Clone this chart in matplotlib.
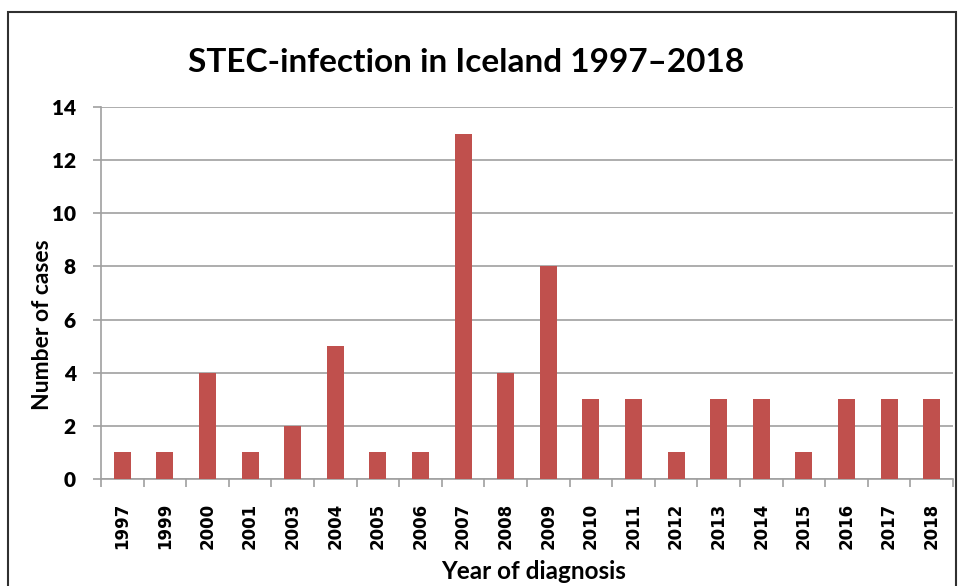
import matplotlib
matplotlib.use("Agg")
import matplotlib.pyplot as plt
import numpy as np
from matplotlib.patches import Rectangle

years = ["1997", "1999", "2000", "2001", "2003", "2004", "2005", "2006", "2007", "2008",
         "2009", "2010", "2011", "2012", "2013", "2014", "2015", "2016", "2017", "2018"]
cases = [1, 1, 4, 1, 2, 5, 1, 1, 13, 4, 8, 3, 3, 1, 3, 3, 1, 3, 3, 3]
yticks = [0, 2, 4, 6, 8, 10, 12, 14]

W, H = 961, 586
fig = plt.figure(figsize=(W / 100, H / 100), dpi=100)
ax = fig.add_axes([101 / W, 1 - 479 / H, (953 - 101) / W, (479 - 107) / H])

x = np.arange(len(years))
ax.bar(x, cases, width=0.4, color="#C0504D", zorder=3)
ax.set_xlim(-0.5, len(years) - 0.5)
ax.set_ylim(0, 14)
ax.set_yticks(yticks)
ax.set_yticklabels([str(v) for v in yticks], fontfamily="Lato", fontweight="heavy", fontsize=15)
ax.yaxis.grid(True, color="#A0A0A0", linewidth=1.2, zorder=0)

ax.set_xticks(x)
ax.set_xticklabels(years, rotation=90, fontfamily="DejaVu Sans", fontweight="bold", fontsize=12)
ax.set_xticks(np.arange(-0.5, len(years)), minor=True)
ax.tick_params(axis="x", which="major", length=0, pad=17)
ax.tick_params(axis="x", which="minor", length=6, color="#A0A0A0", width=1.2, direction="out")
ax.tick_params(axis="y", length=6, color="#A0A0A0", width=1.2, pad=12)

for s in ["top", "right"]:
    ax.spines[s].set_visible(False)
for s in ["left", "bottom"]:
    ax.spines[s].set_color("#A0A0A0")
    ax.spines[s].set_linewidth(1.2)

fig.text(466 / W, 1 - 62 / H, "STEC-infection in Iceland 1997\u20132018", ha="center", va="center",
         fontfamily="Lato", fontweight="bold", fontsize=24)
fig.text(43 / W, 1 - 325 / H, "Number of cases", rotation=90, ha="center", va="center",
         fontfamily="Lato", fontweight="bold", fontsize=16.5)
fig.text(534 / W, 1 - 579 / H, "Year of diagnosis", ha="center", va="baseline",
         fontfamily="Lato", fontweight="bold", fontsize=17.5)

fig.patches.append(Rectangle((8 / W, -0.1), (956 - 8) / W, 1.1 - 12 / H, transform=fig.transFigure,
                             fill=False, edgecolor="#303030", linewidth=1.5))

fig.savefig("out.png", dpi=100)
